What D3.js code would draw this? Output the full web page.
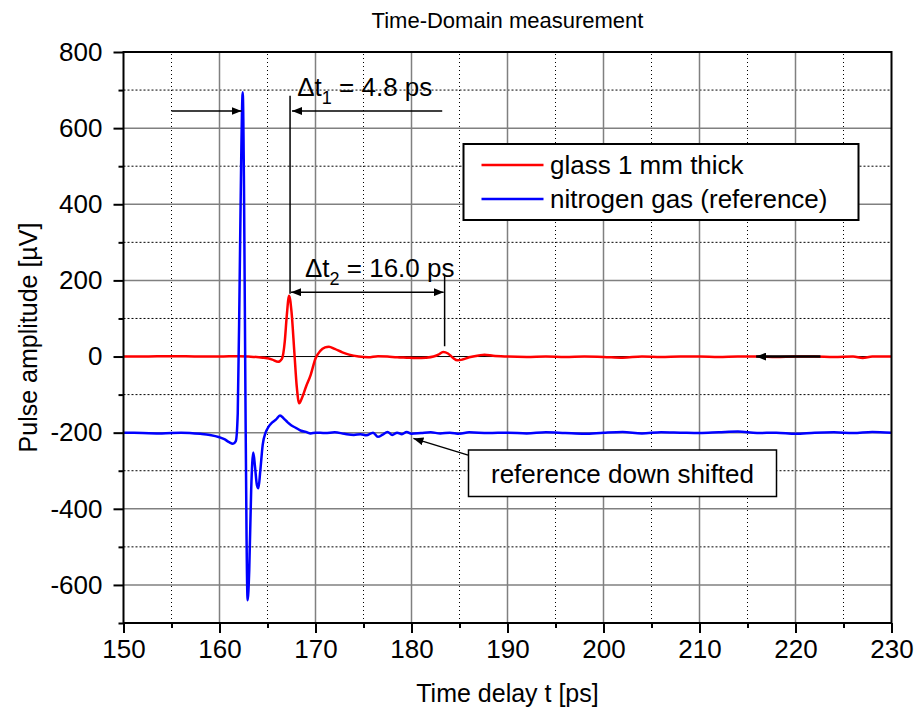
<!DOCTYPE html>
<html lang="en">
<head>
<meta charset="UTF-8">
<title>Time-Domain measurement</title>
<style>
  body { margin: 0; background: #fff; }
  text { font-family: "Liberation Sans", Arial, sans-serif; fill: #000; }
</style>
</head>
<body>
<script src="https://cdn.jsdelivr.net/npm/d3@7"></script>
<script>
// data
const xMajor = [150, 160, 170, 180, 190, 200, 210, 220, 230];
const xMinor = [155, 165, 175, 185, 195, 205, 215, 225];
const yMajor = [-600, -400, -200, 0, 200, 400, 600, 800];
const yMinor = [-700, -500, -300, -100, 100, 300, 500, 700];

// glass 1 mm thick  [t ps, amplitude uV]
const glass = [
  [150, 0], [152, 0], [155, 1], [158, 0], [160, 0], [162, 1], [163, 0], [164.5, -3],
  [165.5, -8], [166.1, -14], [166.5, -6], [166.8, 40], [167.0, 105], [167.25, 160],
  [167.5, 118], [167.8, 10], [168.05, -80], [168.3, -123], [168.6, -108], [169.0, -80],
  [169.5, -48], [170.0, -5], [170.5, 15], [171.0, 24], [171.4, 26], [172.0, 20],
  [172.8, 11], [173.5, 5], [174.5, 0], [175.5, -2], [176.5, 1], [177.5, 0], [178.5, -2],
  [179.5, -3], [180.5, -4], [181.5, -3], [182.3, 0], [182.8, 5], [183.3, 12], [183.8, 8],
  [184.3, -3], [184.8, -10], [185.3, -8], [186, -2], [187, 3], [187.6, 5], [188.5, 2],
  [190, 0], [192, -1], [194, 0], [196, -1], [198, 0], [200, -1], [202, -3], [204, 0],
  [206, -1], [208, 0], [210, 0], [212, -1], [214, 0], [216, 0], [218, -1], [220, 0],
  [222, 0], [224, -1], [226, 0], [227, -4], [228, 0], [230, 0]
];

// nitrogen gas (reference), shifted down by 200 uV
const nitrogen = [
  [150, -200], [152, -201], [154, -202], [156, -200], [158, -203], [159, -206],
  [160, -212], [160.5, -217], [161, -225], [161.4, -229], [161.7, -222], [161.9, -150],
  [162.1, 200], [162.25, 500], [162.42, 694], [162.55, 450], [162.7, -100], [162.82, -480],
  [162.93, -640], [163.1, -560], [163.3, -350], [163.52, -252], [163.7, -290],
  [163.9, -338], [164.05, -346], [164.25, -300], [164.5, -232], [164.8, -200],
  [165.1, -185], [165.5, -173], [165.9, -165], [166.3, -155], [166.7, -163],
  [167.1, -173], [167.5, -181], [168, -188], [168.5, -195], [169, -198], [169.5, -202],
  [170, -200], [171, -201], [172, -199], [173, -203], [174, -206], [174.7, -204],
  [175.3, -207], [176, -200], [176.5, -211], [177, -205], [177.5, -198], [178, -206],
  [178.5, -200], [179, -204], [179.5, -198], [180, -203], [181, -201], [182, -199],
  [183, -202], [184, -200], [185, -203], [186, -199], [188, -201], [190, -200],
  [192, -202], [194, -199], [196, -201], [198, -203], [200, -200], [202, -198],
  [204, -202], [206, -199], [208, -200], [210, -201], [212, -199], [214, -197],
  [216, -201], [218, -200], [220, -203], [222, -200], [224, -199], [226, -201],
  [228, -198], [230, -200]
];

const seriesNames = ['glass 1 mm thick', 'nitrogen gas (reference)'];
const seriesColors = ['#ff0000', '#0000ff'];

const width = 917;
const height = 713;
const margin = { top: 52, right: 25.5, bottom: 90, left: 123.5 };

const svg = d3.select('body').append('svg')
  .attr('width', width)
  .attr('height', height);

const x = d3.scaleLinear().domain([150, 230]).range([margin.left, width - margin.right]);
const y = d3.scaleLinear().domain([-700, 800]).range([height - margin.bottom, margin.top]);

// grid
const grid = svg.append('g');
grid.selectAll('.vmin').data(xMinor).enter().append('line')
  .attr('x1', d => x(d)).attr('x2', d => x(d))
  .attr('y1', y(-700)).attr('y2', y(800))
  .attr('stroke', '#000').attr('stroke-width', 1).attr('stroke-dasharray', '1,3');
grid.selectAll('.hmin').data(yMinor.filter(d => d > -700)).enter().append('line')
  .attr('x1', x(150)).attr('x2', x(230))
  .attr('y1', d => y(d)).attr('y2', d => y(d))
  .attr('stroke', '#000').attr('stroke-width', 1).attr('stroke-dasharray', '2,2');
grid.selectAll('.vmaj').data(xMajor.slice(1, -1)).enter().append('line')
  .attr('x1', d => x(d)).attr('x2', d => x(d))
  .attr('y1', y(-700)).attr('y2', y(800))
  .attr('stroke', '#808080').attr('stroke-width', 1.5);
grid.selectAll('.hmaj').data(yMajor.filter(d => d !== 800 && d !== 0)).enter().append('line')
  .attr('x1', x(150)).attr('x2', x(230))
  .attr('y1', d => y(d)).attr('y2', d => y(d))
  .attr('stroke', '#808080').attr('stroke-width', 1.5);
grid.append('line')
  .attr('x1', x(150)).attr('x2', x(230))
  .attr('y1', y(0)).attr('y2', y(0))
  .attr('stroke', '#000').attr('stroke-width', 1);

// curves
const line = d3.line()
  .x(d => x(d[0]))
  .y(d => y(d[1]))
  .curve(d3.curveMonotoneX);

[glass, nitrogen].forEach((s, i) => {
  svg.append('path')
    .datum(s)
    .attr('fill', 'none')
    .attr('stroke', seriesColors[i])
    .attr('stroke-width', 2.5)
    .attr('stroke-linejoin', 'round')
    .attr('d', line);
});

// axes (plain hyphen for negatives, as in the original)
const plain = d => String(d);
svg.append('g')
  .attr('transform', `translate(0,${y(-700)})`)
  .call(d3.axisBottom(x).tickValues(xMajor).tickFormat(plain).tickSize(10).tickPadding(7).tickSizeOuter(0));
svg.append('g')
  .attr('transform', `translate(0,${y(-700)})`)
  .call(d3.axisBottom(x).tickValues(xMinor).tickSize(5).tickFormat('').tickSizeOuter(0));
svg.append('g')
  .attr('transform', `translate(${x(150)},0)`)
  .call(d3.axisLeft(y).tickValues(yMajor).tickFormat(plain).tickSize(10).tickPadding(11).tickSizeOuter(0));
svg.append('g')
  .attr('transform', `translate(${x(150)},0)`)
  .call(d3.axisLeft(y).tickValues(yMinor).tickSize(5).tickFormat('').tickSizeOuter(0));

svg.selectAll('.tick line').attr('stroke', '#000').attr('stroke-width', 2);
svg.selectAll('.tick text')
  .style('font-family', '"Liberation Sans", Arial, sans-serif')
  .style('font-size', '26px');
svg.selectAll('.domain').remove();

// frame
svg.append('rect')
  .attr('x', x(150)).attr('y', y(800))
  .attr('width', x(230) - x(150)).attr('height', y(-700) - y(800))
  .attr('fill', 'none').attr('stroke', '#000').attr('stroke-width', 2);

// titles
svg.append('text')
  .attr('x', (x(150) + x(230)) / 2).attr('y', 28)
  .attr('text-anchor', 'middle').style('font-size', '22px')
  .text('Time-Domain measurement');
svg.append('text')
  .attr('x', (x(150) + x(230)) / 2).attr('y', 702)
  .attr('text-anchor', 'middle').style('font-size', '25px')
  .text('Time delay t [ps]');
svg.append('text')
  .attr('transform', `translate(37,${(y(800) + y(-700)) / 2}) rotate(-90)`)
  .attr('text-anchor', 'middle').style('font-size', '25px')
  .text('Pulse amplitude [µV]');

// arrow markers
const defs = svg.append('defs');
defs.append('marker')
  .attr('id', 'arrow')
  .attr('viewBox', '0 0 10 8')
  .attr('refX', 10).attr('refY', 4)
  .attr('markerWidth', 10).attr('markerHeight', 8)
  .attr('markerUnits', 'userSpaceOnUse')
  .attr('orient', 'auto-start-reverse')
  .append('path').attr('d', 'M0,0L10,4L0,8Z').attr('fill', '#000');

const ann = svg.append('g').attr('stroke', '#000').attr('stroke-width', 1.5);

// delta t1
ann.append('line')
  .attr('x1', x(155)).attr('y1', y(645)).attr('x2', x(162.3)).attr('y2', y(645))
  .attr('marker-end', 'url(#arrow)');
ann.append('line')
  .attr('x1', x(167.35)).attr('y1', y(685)).attr('x2', x(167.35)).attr('y2', y(165));
ann.append('line')
  .attr('x1', x(183.2)).attr('y1', y(645)).attr('x2', x(167.55)).attr('y2', y(645))
  .attr('marker-end', 'url(#arrow)');

// delta t2
ann.append('line')
  .attr('x1', x(167.45)).attr('y1', y(169)).attr('x2', x(183.35)).attr('y2', y(169))
  .attr('marker-start', 'url(#arrow)').attr('marker-end', 'url(#arrow)');
ann.append('line')
  .attr('x1', x(183.45)).attr('y1', y(215)).attr('x2', x(183.45)).attr('y2', y(27));

// arrow on the right
ann.append('line')
  .attr('x1', x(222.6)).attr('y1', y(0)).attr('x2', x(215.9)).attr('y2', y(0))
  .attr('stroke-width', 2.5)
  .attr('marker-end', 'url(#arrow)');

// arrow to reference
ann.append('line')
  .attr('x1', x(185.9)).attr('y1', y(-259)).attr('x2', x(180.2)).attr('y2', y(-215))
  .attr('marker-end', 'url(#arrow)');

function deltaLabel(tx, ty, sub, rest) {
  const t = svg.append('text')
    .attr('x', x(tx)).attr('y', y(ty))
    .style('font-size', '26px');
  t.append('tspan').text('\u0394t');
  t.append('tspan').attr('dy', 8).style('font-size', '18px').text(sub);
  t.append('tspan').attr('dy', -8).text(' = ' + rest);
}
deltaLabel(168.1, 685, '1', '4.8 ps');
deltaLabel(168.9, 210, '2', '16.0 ps');

// box: reference down shifted
svg.append('rect')
  .attr('x', 468.5).attr('y', 450)
  .attr('width', 308).attr('height', 46.5)
  .attr('fill', '#fff').attr('stroke', '#000').attr('stroke-width', 1.5);
svg.append('text')
  .attr('x', 622.5).attr('y', 482.5)
  .attr('text-anchor', 'middle').style('font-size', '26px')
  .text('reference down shifted');

// legend
const legend = svg.append('g');
legend.append('rect')
  .attr('x', 463.5).attr('y', 144)
  .attr('width', 395).attr('height', 76)
  .attr('fill', '#fff').attr('stroke', '#000').attr('stroke-width', 2);
seriesNames.forEach((name, i) => {
  const ly = 165 + i * 34;
  legend.append('line')
    .attr('x1', 481.5).attr('x2', 543.5).attr('y1', ly).attr('y2', ly)
    .attr('stroke', seriesColors[i]).attr('stroke-width', 2.5);
  legend.append('text')
    .attr('x', 550).attr('y', ly + 9)
    .style('font-size', '26px')
    .text(name);
});
</script>
</body>
</html>
